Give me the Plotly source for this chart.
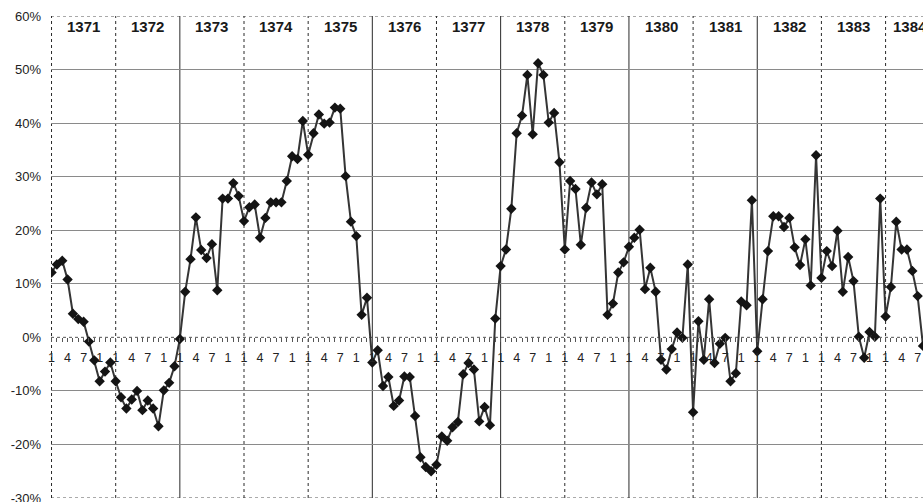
import plotly.graph_objects as go

# ---------------- data ----------------
years = [1371, 1372, 1373, 1374, 1375, 1376, 1377, 1378, 1379, 1380, 1381, 1382, 1383, 1384]

v1371 = [12.1, 13.6, 14.3, 10.8, 4.4, 3.4, 2.9, -0.8, -4.3, -8.2, -6.4, -4.7]
v1372 = [-8.2, -11.2, -13.3, -11.6, -10.0, -13.6, -11.8, -13.3, -16.6, -9.9, -8.5, -5.4]
v1373 = [-0.3, 8.5, 14.6, 22.4, 16.3, 14.8, 17.4, 8.8, 25.9, 25.9, 28.8, 26.4]
v1374 = [21.7, 24.3, 24.8, 18.6, 22.3, 25.2, 25.2, 25.2, 29.2, 33.8, 33.3, 40.4]
v1375 = [34.1, 38.1, 41.6, 39.9, 40.1, 42.9, 42.7, 30.1, 21.6, 18.9, 4.2, 7.4]
v1376 = [-4.7, -2.4, -9.1, -7.4, -12.8, -11.8, -7.3, -7.4, -14.7, -22.4, -24.2, -25.0]
v1377 = [-23.8, -18.5, -19.3, -16.8, -15.8, -6.9, -4.8, -6.0, -15.7, -13.0, -16.4, 3.5]
v1378 = [13.3, 16.4, 24.0, 38.1, 41.4, 49.0, 37.9, 51.2, 49.0, 40.1, 41.9, 32.7]
v1379 = [16.4, 29.2, 27.7, 17.3, 24.2, 28.9, 26.7, 28.6, 4.2, 6.3, 12.1, 14.0]
v1380 = [16.9, 18.6, 20.1, 9.0, 13.0, 8.5, -4.2, -6.0, -2.2, 0.9, -0.1, 13.6]
v1381 = [-14.0, 3.0, -4.2, 7.1, -4.8, -1.2, -0.1, -8.2, -6.7, 6.7, 6.0, 25.6]
v1382 = [-2.6, 7.1, 16.1, 22.6, 22.6, 20.6, 22.3, 16.8, 13.5, 18.3, 9.7, 34.0]
v1383 = [11.1, 16.1, 13.3, 19.9, 8.5, 15.0, 10.5, 0.1, -3.8, 1.0, 0.1, 25.9]
v1384 = [3.9, 9.4, 21.6, 16.4, 16.4, 12.4, 7.7, -1.6]

month_tick_text = ["1", "", "", "4", "", "", "7", "", "", "1", "", ""]
y_ticks = [-30, -20, -10, 0, 10, 20, 30, 40, 50, 60]
y_grid_solid = [-20, -10, 10, 20, 30, 40, 50]
y_border_dotted = [-30, 0, 60]
year_line_dash = ["dot", "dot", "solid", "dot", "dot", "solid", "dot",
                  "solid", "dot", "solid", "dot", "solid", "dot", "dot"]

# ---------------- figure ----------------
series = (v1371 + v1372 + v1373 + v1374 + v1375 + v1376 + v1377 +
          v1378 + v1379 + v1380 + v1381 + v1382 + v1383 + v1384)
x = list(range(len(series)))

FONT = "Liberation Sans, Arial, sans-serif"
X_MAX = 163

fig = go.Figure()
fig.add_trace(go.Scatter(
    x=x, y=series, mode="lines+markers",
    line=dict(color="#353535", width=2),
    marker=dict(symbol="diamond", size=8, color="#141414"),
    showlegend=False,
))

n_months = len(years) * 12
tickvals = list(range(n_months))
ticktext = month_tick_text * len(years)

shapes = []
for v in y_border_dotted:
    shapes.append(dict(type="line", xref="paper", x0=0, x1=1, yref="y", y0=v, y1=v,
                       line=dict(color="#555555", width=1, dash="dot"), layer="below"))
for k, yr in enumerate(years):
    shapes.append(dict(type="line", xref="x", x0=12 * k, x1=12 * k, yref="y", y0=-30, y1=60,
                       line=dict(color="#2a2a2a", width=1, dash=year_line_dash[k]), layer="below"))

annotations = []
for k, yr in enumerate(years):
    centre = 12 * k + 6
    if centre + 3 > X_MAX:  # year only partly visible: start label at the year line
        ax, anchor = 12 * k + 1, "left"
    else:
        ax, anchor = centre, "center"
    annotations.append(dict(x=ax, y=58.1, xref="x", yref="y", text=f"<b>{yr}</b>",
                            showarrow=False, xanchor=anchor, yanchor="middle",
                            font=dict(family=FONT, size=15, color="#1a1a1a")))

fig.update_layout(
    width=923, height=502,
    margin=dict(l=51, r=0, t=16, b=4, autoexpand=False),
    paper_bgcolor="white", plot_bgcolor="white",
    font=dict(family=FONT, size=12, color="#222222"),
    shapes=shapes, annotations=annotations,
    xaxis=dict(
        range=[-0.1, X_MAX], anchor="free", position=1 / 3, automargin=False,
        tickmode="array", tickvals=tickvals, ticktext=ticktext,
        ticks="outside", ticklen=4, tickcolor="#555555", tickwidth=1,
        showgrid=False, showline=False, zeroline=False,
        tickfont=dict(family=FONT, size=12.5, color="#222222"),
        ticklabelstandoff=5, ticklabeloverflow="allow",
    ),
    yaxis=dict(
        range=[-30, 60], domain=[0, 1], automargin=False,
        tickmode="array", tickvals=y_ticks, ticktext=[f"{v}%" for v in y_ticks],
        ticks="", showgrid=False, zeroline=False, showline=False,
        tickfont=dict(family=FONT, size=13, color="#222222"),
        ticklabelstandoff=9, ticklabeloverflow="allow",
        minor=dict(tickmode="array", tickvals=y_grid_solid, showgrid=True,
                   gridcolor="#8a8a8a", gridwidth=1, ticks=""),
    ),
)

fig.write_html(
    "out.html",
    config={"displayModeBar": False},
    post_script="document.body.style.margin='0';document.body.style.overflow='hidden';",
)
